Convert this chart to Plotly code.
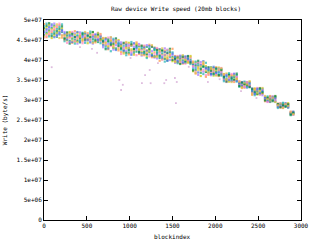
import plotly.graph_objects as go

# block index sample positions (every 30 blocks)
blockindex = [0, 30, 60, 90, 120, 150, 180, 210,
              240, 270, 300, 330, 360, 390, 420, 450, 480, 510, 540, 570, 600, 630, 660,
              690, 720, 750, 780, 810, 840, 870,
              900, 930, 960, 990, 1020, 1050, 1080, 1110,
              1140, 1170, 1200, 1230, 1260, 1290,
              1320, 1350, 1380, 1410, 1440, 1470, 1500,
              1530, 1560, 1590, 1620, 1650, 1680, 1710,
              1740, 1770, 1800, 1830, 1860, 1890,
              1920, 1950, 1980, 2010, 2040, 2070,
              2100, 2130, 2160, 2190, 2220, 2250,
              2280, 2310, 2340, 2370, 2400,
              2430, 2460, 2490, 2520, 2550,
              2580, 2610, 2640, 2670, 2700,
              2730, 2760, 2790, 2820, 2850,
              2880, 2910]

# write speeds per run, in units of 1e5 byte/s
run_a = [462,468,474,480,486,458,464,470,
         455,462,448,467,451,459,444,463,456,449,466,452,458,445,460,
         448,436,452,441,430,446,439,
         432,425,440,418,436,428,421,434,
         428,415,433,420,410,425,
         418,405,425,412,399,420,408,
         404,396,409,399,393,406,401,
         388,375,392,368,383,379,
         375,366,380,370,362,377,
         360,352,364,348,357,362,
         341,334,339,344,332,
         326,318,323,315,328,
         305,298,308,301,296,
         289,283,291,286,281,
         268,264]
run_b = [476,482,488,455,461,467,473,479,
         463,449,470,455,446,468,459,451,464,442,457,469,447,461,453,
         441,455,433,447,438,428,450,
         437,419,429,443,424,416,439,427,
         420,434,408,427,416,431,
         411,426,402,419,406,415,397,
         397,408,392,405,402,395,410,
         372,394,380,360,389,385,
         368,379,361,374,381,366,
         353,366,346,359,350,355,
         336,343,331,338,345,
         320,329,314,325,317,
         300,307,295,303,309,
         284,290,280,287,292,
         263,270]
run_c = [490,457,463,469,475,481,487,456,
         450,466,458,443,472,453,461,447,455,467,450,462,444,456,465,
         455,444,427,451,434,442,424,
         420,441,433,414,437,422,444,415,
         435,412,424,438,407,419,
         427,398,414,423,403,410,428,
         410,394,403,391,407,398,392,
         396,366,385,374,391,358,
         363,376,369,382,360,372,
         365,349,357,362,345,351,
         344,330,337,341,335,
         313,327,321,330,316,
         297,304,310,299,306,
         291,281,288,284,290,
         271,266]
run_d = [467,473,479,485,491,460,466,472,
         470,454,445,460,466,441,469,456,448,463,454,441,465,452,447,
         432,449,440,456,426,437,447,
         444,431,423,438,417,433,426,440,
         411,429,437,414,422,406,
         404,420,409,429,416,400,413,
         393,401,411,396,404,409,397,
         383,390,363,395,371,377,
         380,362,373,365,378,369,
         350,363,356,347,366,358,
         339,345,333,342,337,
         329,315,326,320,312,
         308,296,302,305,298,
         286,292,283,289,282,
         265,269]
run_e = [485,491,459,465,471,477,483,489,
         447,458,464,452,441,462,450,468,443,459,471,446,453,467,442,
         450,431,445,422,453,429,443,
         426,436,412,431,445,419,430,423,
         432,418,405,430,413,427,
         421,409,417,396,424,407,419,
         406,392,398,410,395,403,390,
         378,396,387,381,365,393,
         371,382,364,377,367,361,
         347,358,367,352,360,346,
         333,341,346,334,340,
         324,312,319,327,321,
         302,309,297,300,307,
         280,287,293,285,288,
         262,267]
run_f = [456,461,467,473,479,485,491,462,
         459,443,455,470,448,457,465,442,460,451,447,463,456,449,461,
         444,438,456,435,445,451,432,
         415,428,442,435,421,439,412,437,
         425,436,416,409,434,414,
         430,416,401,413,426,411,403,
         400,410,395,406,391,399,405,
         385,371,394,390,376,362,
         366,370,378,363,374,380,
         362,345,354,365,349,357,
         347,338,332,345,336,
         317,324,330,313,325,
         303,295,306,309,301,
         288,284,281,291,286,
         270,263]
run_g = [471,477,483,489,457,463,469,475,
         466,451,461,445,457,470,446,459,467,452,444,458,462,450,456,
         437,453,429,443,449,425,441,
         439,422,436,427,413,442,432,418,
         417,431,423,435,411,430,
         414,427,406,420,398,422,416,
         408,397,404,393,409,402,396,
         391,380,369,387,397,381,
         377,365,383,368,371,364,
         355,361,350,357,364,348,
         342,336,344,331,343,
         322,316,328,318,323,
         306,300,296,308,304,
         283,289,285,292,284,
         267,271]
run_h = [480,486,492,460,466,472,478,484,
         453,469,441,464,458,448,455,466,451,461,458,470,449,464,451,
         446,427,448,438,441,454,435,
         429,443,418,424,440,427,436,420,
         436,421,414,426,433,409,
         425,411,423,403,418,428,400,
         402,406,390,408,397,410,394,
         374,386,398,377,384,370,
         382,373,366,379,362,375,
         358,346,362,354,351,366,
         335,344,340,337,333,
         328,321,315,329,319,
         299,305,301,297,310,
         290,282,287,283,289,
         264,268]
run_i = [459,465,471,477,483,489,455,461,
         461,456,467,449,463,445,458,452,470,455,463,443,459,468,449,
         453,442,435,457,431,448,428,
         434,416,445,430,427,413,441,425,
         413,427,418,422,437,408,
         408,422,429,407,411,424,405,
         395,404,399,412,400,393,408,
         393,368,375,384,395,373,
         369,381,375,361,376,379,
         364,352,359,345,361,353,
         346,332,343,339,347,
         315,326,317,322,330,
         310,302,299,306,295,
         287,291,281,290,285,
         269,265]

# stray slow measurements
stray_x = [90, 880, 900, 920, 1143, 1234, 1245, 1404, 1426, 1528, 1540, 1550, 1913, 620, 1180, 2300,
           420, 560, 1010, 1330, 1690, 2050, 2480]
stray_y = [382, 350, 325, 338, 342, 375, 342, 342, 350, 355, 292, 345, 345, 418, 362, 322,
           432, 428, 405, 392, 383, 352, 305]

runs = [run_a, run_b, run_c, run_d, run_e, run_f, run_g, run_h, run_i]
colors = ["#00a060", "#c8c800", "#ff9040", "#a070ff", "#20b0b0",
          "#ff80c0", "#4070e0", "#008040", "#e0c040"]

y_tickvals = [0, 5e6, 1e7, 1.5e7, 2e7, 2.5e7, 3e7, 3.5e7, 4e7, 4.5e7, 5e7]
y_ticktext = ["0", "5e+06", "1e+07", "1.5e+07", "2e+07", "2.5e+07",
              "3e+07", "3.5e+07", "4e+07", "4.5e+07", "5e+07"]
x_tickvals = [0, 500, 1000, 1500, 2000, 2500, 3000]
x_ticktext = ["0", "500", "1000", "1500", "2000", "2500", "3000"]

fig = go.Figure()
for run, col in zip(runs, colors):
    fig.add_trace(go.Scatter(
        x=blockindex, y=[v * 1e5 for v in run], mode="markers",
        marker=dict(symbol="square", size=2.2, color=col, opacity=0.7,
                    line=dict(width=0)),
        showlegend=False))
fig.add_trace(go.Scatter(
    x=stray_x, y=[v * 1e5 for v in stray_y], mode="markers",
    marker=dict(symbol="square", size=1.8, color="#d0a0d0", opacity=0.7,
                line=dict(width=0)),
    showlegend=False))

font = dict(family="DejaVu Sans Mono", size=6, color="#000000")
axis_common = dict(showline=True, linecolor="#000000", linewidth=1, mirror="ticks",
                   ticks="inside", ticklen=4, tickcolor="#000000", showgrid=False,
                   zeroline=False, tickfont=font)
fig.update_layout(
    width=320, height=240,
    margin=dict(l=44, r=11, t=20, b=20),
    paper_bgcolor="white", plot_bgcolor="white",
    title=dict(text="Raw device Write speed (20mb blocks)", x=0.55, xanchor="center",
               y=1 - 9 / 240, yanchor="middle", font=font),
    xaxis=dict(range=[0, 3000], tickvals=x_tickvals, ticktext=x_ticktext, **axis_common),
    yaxis=dict(range=[0, 5e7], tickvals=y_tickvals, ticktext=y_ticktext, **axis_common),
    annotations=[
        dict(text="blockindex", xref="paper", yref="paper", x=0.5, y=-16 / 200,
             xanchor="center", yanchor="middle", showarrow=False, font=font),
        dict(text="Write (byte/s)", xref="paper", yref="paper", x=-40 / 265, y=0.5,
             textangle=-90, xanchor="center", yanchor="middle", showarrow=False, font=font),
    ],
)
fig.write_html("out.html")
